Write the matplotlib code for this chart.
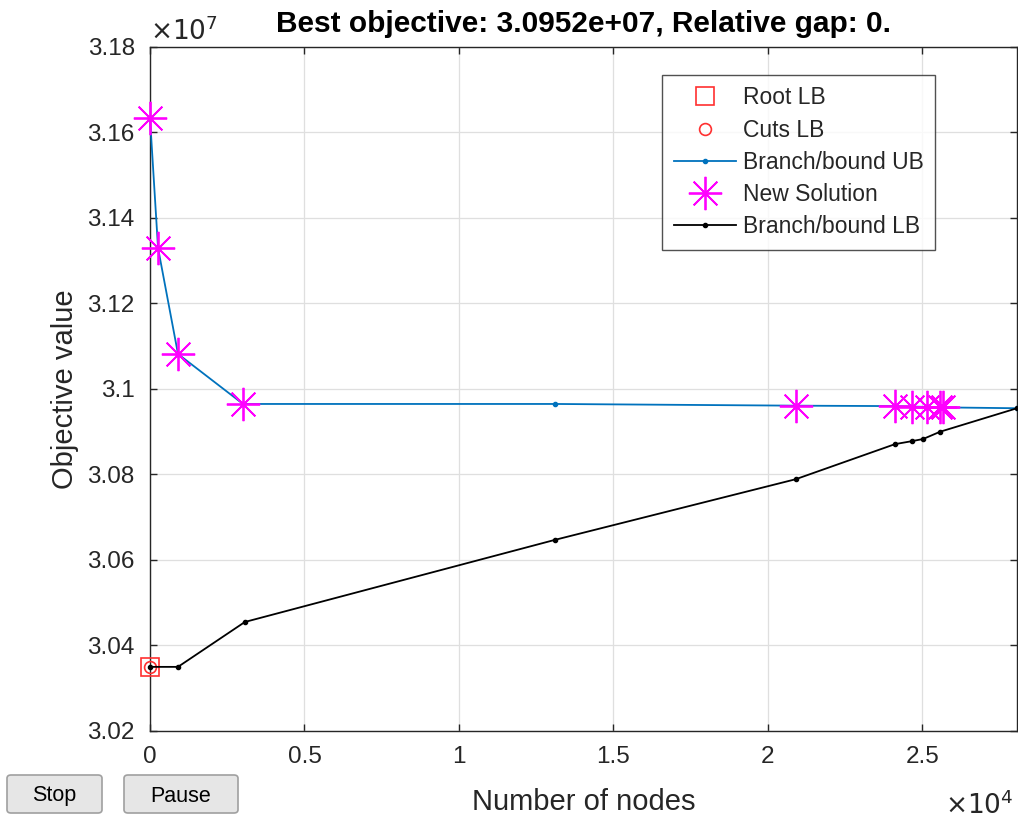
import matplotlib
matplotlib.use("Agg")
import matplotlib.pyplot as plt
from matplotlib.patches import FancyBboxPatch
from matplotlib.ticker import FixedLocator

plt.rcParams['font.family'] = ['Liberation Sans', 'DejaVu Sans']

# ---- data (nodes, objective value) ----
root_x = [0]
root_y = [3.0350e7]
cuts_x = [0]
cuts_y = [3.0350e7]

ub_x = [0, 260, 906, 3010, 13100, 20900, 24110, 24660, 25150, 25570, 25650, 28060]
ub_y = [3.1634e7, 3.1330e7, 3.1082e7, 3.0965e7, 3.0965e7, 3.0961e7, 3.0960e7,
        3.0959e7, 3.0958e7, 3.0957e7, 3.0957e7, 3.0955e7]

sol_x = [0, 260, 906, 3010, 20900, 24110, 24660, 25150, 25570, 25650]
sol_y = [3.1634e7, 3.1330e7, 3.1082e7, 3.0965e7, 3.0961e7, 3.0960e7,
         3.0959e7, 3.0958e7, 3.0957e7, 3.0957e7]

lb_x = [0, 906, 3070, 13100, 20900, 24110, 24660, 25020, 25570, 28060]
lb_y = [3.0350e7, 3.0350e7, 3.0455e7, 3.0647e7, 3.0789e7, 3.0871e7,
        3.0878e7, 3.0883e7, 3.0900e7, 3.0955e7]

x_ticks = [0, 5000, 10000, 15000, 20000, 25000]
x_ticklabels = ['0', '0.5', '1', '1.5', '2', '2.5']
y_ticks = [3.02e7, 3.04e7, 3.06e7, 3.08e7, 3.10e7, 3.12e7, 3.14e7, 3.16e7, 3.18e7]
y_ticklabels = ['3.02', '3.04', '3.06', '3.08', '3.1', '3.12', '3.14', '3.16', '3.18']

title_text = 'Best objective: 3.0952e+07, Relative gap: 0.'

W, H = 1018, 818
fig = plt.figure(figsize=(W / 100, H / 100), dpi=100)
fig.patch.set_facecolor('white')
ax = fig.add_axes([150 / W, (H - 731) / H, 867 / W, 684 / H])

tc = '#262626'
ax.plot(root_x, root_y, linestyle='none', marker='s', markersize=12.5,
        markerfacecolor='none', markeredgecolor='#ff3030', markeredgewidth=1.2,
        label='Root LB', zorder=5, clip_on=False)
ax.plot(cuts_x, cuts_y, linestyle='none', marker='o', markersize=8.5,
        markerfacecolor='none', markeredgecolor='#ff3030', markeredgewidth=1.2,
        label='Cuts LB', zorder=5, clip_on=False)
ax.plot(ub_x, ub_y, color='#0072BD', linewidth=1.3, marker='.', markersize=6,
        label='Branch/bound UB', zorder=3, clip_on=False)
ax.plot(sol_x, sol_y, linestyle='none', marker=(8, 2, 0), markersize=24,
        markeredgecolor='#ff00ff', markerfacecolor='#ff00ff', markeredgewidth=1.3,
        label='New Solution', zorder=4, clip_on=False)
ax.plot(lb_x, lb_y, color='black', linewidth=1.3, marker='.', markersize=6,
        label='Branch/bound LB', zorder=6, clip_on=False)

ax.set_xlim(0, 28060)
ax.set_ylim(3.02e7, 3.18e7)
ax.xaxis.set_major_locator(FixedLocator(x_ticks))
ax.set_xticklabels(x_ticklabels)
ax.yaxis.set_major_locator(FixedLocator(y_ticks))
ax.set_yticklabels(y_ticklabels)

ax.grid(True, color='#dfdfdf', linewidth=0.9)
ax.set_axisbelow(True)
for s in ax.spines.values():
    s.set_color(tc)
    s.set_linewidth(1.0)
ax.tick_params(direction='in', length=5, width=1.0, colors=tc, labelsize=17.5,
               top=True, right=True, pad=11)

ax.set_xlabel('Number of nodes', fontsize=21, color=tc, labelpad=14)
ax.set_ylabel('Objective value', fontsize=21, color=tc, labelpad=6)
ax.set_title(title_text, fontsize=21.5, fontweight='bold', color='black', pad=11)

fig.text(150 / W, 1 - 31 / H, r'$\times10^{7}$', fontsize=19, color=tc,
         ha='left', va='center', math_fontfamily='dejavusans')
fig.text(1014 / W, 1 - 805 / H, r'$\times10^{4}$', fontsize=19, color=tc,
         ha='right', va='center', math_fontfamily='dejavusans')

leg = ax.legend(loc='upper right', bbox_to_anchor=((935 - 150) / 867, (731 - 75) / 684),
                fontsize=16.5, frameon=True, fancybox=False, edgecolor=tc,
                handlelength=2.7, borderpad=0.5, labelspacing=0.40, handletextpad=0.3,
                borderaxespad=0)
leg.get_frame().set_linewidth(1.0)
for t in leg.get_texts():
    t.set_color(tc)

# buttons
for (x0, x1, label) in [(7, 102, 'Stop'), (124, 238, 'Pause')]:
    bx = FancyBboxPatch((x0 / W, 1 - 813 / H), (x1 - x0) / W, 38 / H,
                        boxstyle='round,pad=0,rounding_size=0.004',
                        transform=fig.transFigure, facecolor='#e6e6e6',
                        edgecolor='#a0a0a0', linewidth=1.2)
    fig.patches.append(bx)
    fig.text((x0 + x1) / 2 / W, 1 - 796 / H, label, fontsize=15.5, color='black',
             ha='center', va='center')

fig.savefig('out.png', dpi=100)
